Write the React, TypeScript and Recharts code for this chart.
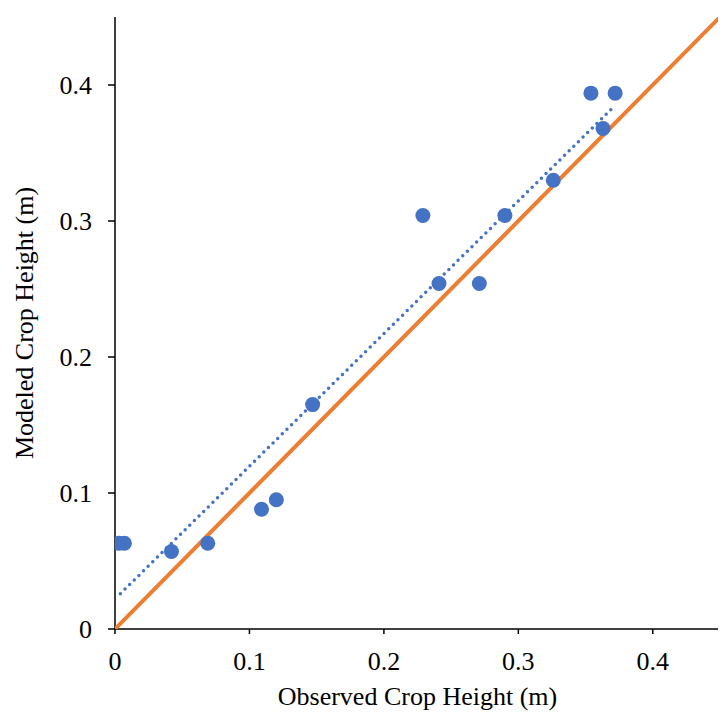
import { Label, Scatter, ScatterChart, XAxis, YAxis } from "recharts"

const observed = [0.003, 0.007, 0.042, 0.069, 0.109, 0.12, 0.147, 0.229, 0.241, 0.271, 0.29, 0.326, 0.354, 0.363, 0.372]
const modeled = [0.063, 0.063, 0.057, 0.063, 0.088, 0.095, 0.165, 0.304, 0.254, 0.254, 0.304, 0.33, 0.394, 0.368, 0.394]

// 1:1 line and linear fit
const oneToOne = [
  { x: 0, y: 0 },
  { x: 0.45, y: 0.45 },
]
const trend = [
  { x: 0.004, y: 0.026 },
  { x: 0.372, y: 0.385 },
]

const ticks = [0, 0.1, 0.2, 0.3, 0.4]

const points = observed.map((x, i) => ({ x, y: modeled[i] }))

const font = "'Liberation Serif', 'Times New Roman', serif"
const textStyle = { fontFamily: font, fontSize: 26, fill: "#000" }
const fmt = (v: number) => (v === 0 ? "0" : String(v))

const noShape = () => <g />
const dot = (props: any) => <circle cx={props.cx} cy={props.cy} r={7.5} fill="#4472C4" />

export default function App() {
  return (
    <div style={{ width: 718, height: 703 }}>
      <ScatterChart width={718} height={703} margin={{ top: 9, right: 6, bottom: 0, left: 0 }}>
        <XAxis
          type="number"
          dataKey="x"
          domain={[0, 0.45]}
          ticks={ticks}
          tickFormatter={fmt}
          allowDataOverflow
          height={82}
          stroke="#000"
          strokeWidth={1.5}
          tickSize={5}
          tickMargin={18}
          tick={textStyle}
        >
          <Label value="Observed Crop Height (m)" position="insideBottom" offset={6} style={textStyle} />
        </XAxis>
        <YAxis
          type="number"
          dataKey="y"
          domain={[0, 0.45]}
          ticks={ticks}
          tickFormatter={fmt}
          allowDataOverflow
          width={107}
          stroke="#000"
          strokeWidth={1.5}
          tickSize={7}
          tickMargin={16}
          tick={textStyle}
        >
          <Label
            value="Modeled Crop Height (m)"
            angle={-90}
            position="insideLeft"
            offset={16}
            style={{ ...textStyle, textAnchor: "middle" }}
          />
        </YAxis>
        <Scatter
          data={oneToOne}
          line={{ stroke: "#ED7D31", strokeWidth: 4 }}
          shape={noShape}
          isAnimationActive={false}
        />
        <Scatter
          data={trend}
          line={{ stroke: "#4472C4", strokeWidth: 3.5, strokeDasharray: "0 6.5", strokeLinecap: "round" }}
          shape={noShape}
          isAnimationActive={false}
        />
        <Scatter data={points} shape={dot} isAnimationActive={false} />
      </ScatterChart>
    </div>
  )
}
